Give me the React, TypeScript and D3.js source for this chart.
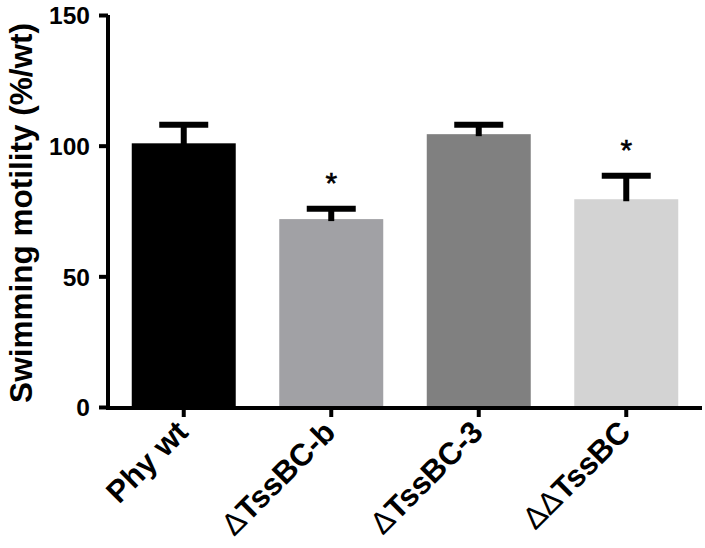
import React, { useEffect, useRef } from "react";
import * as d3 from "d3";

const categories = ["Phy wt", "ΔTssBC-b", "ΔTssBC-3", "ΔΔTssBC"];
const means = [100.9, 71.9, 104.4, 79.5];
const upperErrors = [7.1, 4.0, 3.6, 9.0];
const significant = [false, true, false, true];
const barColors = ["#000000", "#a1a1a5", "#808080", "#d3d3d3"];
const yTicks = [0, 50, 100, 150];

const WIDTH = 705;
const HEIGHT = 548;
const FONT = "'Liberation Sans', Arial, Helvetica, sans-serif";

const App = () => {
  const svgRef = useRef<SVGSVGElement>(null);

  useEffect(() => {
    const svg = d3.select(svgRef.current);
    svg.selectAll("*").remove();

    const left = 108;
    const right = 702;
    const bottom = 407;
    const top = 15;

    const x = d3
      .scaleBand<string>()
      .domain(categories)
      .range([left, right])
      .paddingInner(0.295)
      .paddingOuter(0.161);

    const y = d3.scaleLinear().domain([0, 150]).range([bottom, top]);

    const g = svg.append("g");

    // bars
    g.selectAll("rect.bar")
      .data(categories)
      .enter()
      .append("rect")
      .attr("class", "bar")
      .attr("x", (d) => x(d)!)
      .attr("width", x.bandwidth())
      .attr("y", (d, i) => y(means[i]))
      .attr("height", (d, i) => y(0) - y(means[i]))
      .attr("fill", (d, i) => barColors[i]);

    // error bars (upper only)
    const capHalf = 24.5;
    categories.forEach((c, i) => {
      const cx = x(c)! + x.bandwidth() / 2;
      const yTop = y(means[i] + upperErrors[i]);
      g.append("line")
        .attr("x1", cx)
        .attr("x2", cx)
        .attr("y1", y(means[i]) + 2)
        .attr("y2", yTop)
        .attr("stroke", "#000")
        .attr("stroke-width", 6);
      g.append("line")
        .attr("x1", cx - capHalf)
        .attr("x2", cx + capHalf)
        .attr("y1", yTop)
        .attr("y2", yTop)
        .attr("stroke", "#000")
        .attr("stroke-width", 6);
      if (significant[i]) {
        g.append("text")
          .attr("x", cx)
          .attr("y", yTop - 16)
          .attr("text-anchor", "middle")
          .attr("font-family", FONT)
          .attr("font-size", 30)
          .attr("fill", "#000")
          .attr("stroke", "#000")
          .attr("stroke-width", 0.6)
          .text("*");
      }
    });

    // y axis
    const yAxis = g
      .append("g")
      .attr("transform", `translate(${left},0)`)
      .call(
        d3
          .axisLeft(y)
          .tickValues(yTicks)
          .tickSize(9)
          .tickPadding(9)
          .tickFormat(d3.format("d"))
      );
    yAxis.select(".domain").attr("stroke", "#000").attr("stroke-width", 4).attr("d", `M0,${bottom + 2}V${top}`);
    yAxis.selectAll(".tick line").attr("stroke", "#000").attr("stroke-width", 4);
    yAxis
      .selectAll(".tick text")
      .attr("font-family", FONT)
      .attr("font-size", 24.5)
      .attr("font-weight", "bold")
      .attr("fill", "#000")
      .attr("dy", "0.36em");

    // x axis
    const xAxis = g
      .append("g")
      .attr("transform", `translate(0,${bottom + 1})`)
      .call(d3.axisBottom(x).tickSize(9).tickFormat(() => ""));
    xAxis.select(".domain").attr("stroke", "#000").attr("stroke-width", 4).attr("d", `M${left - 2},0H${right}`);
    xAxis.selectAll(".tick line").attr("stroke", "#000").attr("stroke-width", 4);

    // rotated x labels
    categories.forEach((c) => {
      const cx = x(c)! + x.bandwidth() / 2;
      const t = g
        .append("text")
        .attr("transform", `translate(${cx + 6},${bottom + 27}) rotate(-45)`)
        .attr("text-anchor", "end")
        .attr("font-family", FONT)
        .attr("font-size", 31)
        .attr("font-weight", "bold")
        .attr("fill", "#000");
      const m = c.match(/^(Δ*)(.*)$/)!;
      if (m[1]) {
        t.append("tspan").attr("font-weight", "normal").text(m[1]);
      }
      t.append("tspan").text(m[2]);
    });

    // y title
    g.append("text")
      .attr("transform", `translate(32,${(top + bottom) / 2 + 2}) rotate(-90)`)
      .attr("text-anchor", "middle")
      .attr("font-family", FONT)
      .attr("font-size", 31.5)
      .attr("font-weight", "bold")
      .attr("fill", "#000")
      .text("Swimming motility (%/wt)");
  }, []);

  return (
    <svg
      ref={svgRef}
      width={WIDTH}
      height={HEIGHT}
      style={{ position: "absolute", left: 0, top: 0, background: "#fff" }}
    />
  );
};

export default App;
